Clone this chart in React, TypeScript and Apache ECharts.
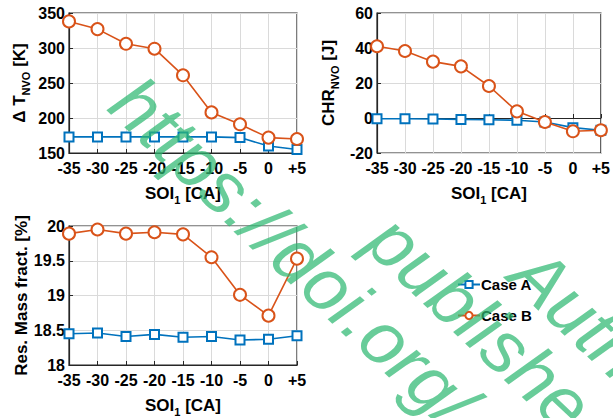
import React, { useEffect, useRef } from "react";
import * as echarts from "echarts";

// Start of injection (SOI 1) in crank-angle degrees
const soiLabels = ["-35", "-30", "-25", "-20", "-15", "-10", "-5", "0", "+5"];

// Temperature rise during NVO [K]
const deltaTCaseA = [173, 173, 173, 173, 173, 173, 172, 160, 155];
const deltaTCaseB = [338, 327, 306, 299, 261, 208, 191, 172, 170];

// Cumulative heat release during NVO [J]
const chrCaseA = [-0.4, -0.4, -0.6, -0.8, -1.0, -1.3, -2.3, -5.5, -7.0];
const chrCaseB = [41, 38.3, 32.2, 29.5, 18.3, 3.8, -2.3, -7.6, -7.0];

// Residual mass fraction [%]
const rmfCaseA = [18.45, 18.46, 18.41, 18.44, 18.4, 18.41, 18.36, 18.37, 18.42];
const rmfCaseB = [19.89, 19.95, 19.89, 19.91, 19.88, 19.55, 19.01, 18.71, 19.53];

const seriesNames = ["Case A", "Case B"];

const FONT = "'Liberation Sans', Arial, Helvetica, sans-serif";
const BLUE = "#0072BD";
const ORANGE = "#D95319";
const AXIS = "#262626";

const nameRich = {
  n: { fontSize: 17, fontWeight: "bold", fontFamily: FONT, color: "#000" },
  s: {
    fontSize: 11,
    fontWeight: "bold",
    fontFamily: FONT,
    color: "#000",
    padding: [12, 0, 0, 0],
  },
};

function xAxisFor(gridIndex: number) {
  return {
    type: "category",
    gridIndex,
    data: soiLabels,
    boundaryGap: false,
    name: "{n|SOI}{s|1}{n| [CA]}",
    nameLocation: "middle",
    nameGap: 29,
    nameTextStyle: { rich: nameRich },
    axisLine: { lineStyle: { color: AXIS, width: 1.2 } },
    axisTick: { inside: true, length: 4, lineStyle: { color: AXIS } },
    axisLabel: {
      interval: 0,
      color: "#000",
      fontSize: 16,
      fontWeight: "bold",
      fontFamily: FONT,
      margin: 7,
    },
    splitLine: { show: true, lineStyle: { color: "#dadada", width: 1 } },
  };
}

function yAxisFor(
  gridIndex: number,
  min: number,
  max: number,
  interval: number,
  name: string,
  nameGap: number
) {
  return {
    type: "value",
    gridIndex,
    min,
    max,
    interval,
    name,
    nameLocation: "middle",
    nameGap,
    nameTextStyle: { rich: nameRich },
    axisLine: { show: true, lineStyle: { color: AXIS, width: 1.2 } },
    axisTick: { show: true, inside: true, length: 4, lineStyle: { color: AXIS } },
    axisLabel: {
      color: "#000",
      fontSize: 16,
      fontWeight: "bold",
      fontFamily: FONT,
      margin: 4,
    },
    splitLine: { show: true, lineStyle: { color: "#dadada", width: 1 } },
  };
}

function lineSeries(
  name: string,
  data: number[],
  gridIndex: number,
  color: string
) {
  const isA = name === seriesNames[0];
  return {
    type: "line",
    name,
    data,
    xAxisIndex: gridIndex,
    yAxisIndex: gridIndex,
    symbol: isA ? "emptyRect" : "emptyCircle",
    symbolSize: isA ? 9 : 12,
    color,
    lineStyle: { color, width: 1.6 },
    itemStyle: { color, borderColor: color, borderWidth: 1.5 },
    z: isA ? 3 : 4,
  };
}

const watermarkFill = "rgba(46,184,114,0.72)";
const watermarkLines = ["https://doi.org/", "publishe", "Auth"];

export default function App() {
  const ref = useRef<HTMLDivElement>(null);

  useEffect(() => {
    document.body.style.margin = "0";
    if (!ref.current) return;
    const chart = echarts.init(ref.current, undefined, { renderer: "svg" });

    const grids = [
      { left: 69, top: 13, width: 228, height: 140 },
      { left: 377, top: 13, width: 228, height: 140 },
      { left: 69, top: 226, width: 228, height: 140 },
    ].map((g) => ({
      ...g,
      show: true,
      borderColor: AXIS,
      borderWidth: 1.2,
      backgroundColor: "transparent",
    }));

    const rot = (-43.4 * Math.PI) / 180;
    const wmPos = [
      [123, 91],
      [380, 228],
      [523, 261],
    ];

    chart.setOption({
      animation: false,
      backgroundColor: "#fff",
      textStyle: { fontFamily: FONT },
      grid: grids,
      xAxis: [xAxisFor(0), xAxisFor(1), xAxisFor(2)],
      yAxis: [
        yAxisFor(0, 150, 350, 50, "{n|Δ T}{s|NVO}{n| [K]}", 38),
        yAxisFor(1, -20, 60, 20, "{n|CHR}{s|NVO}{n| [J]}", 37),
        yAxisFor(2, 18, 20, 0.5, "{n|Res. Mass fract. [%]}", 38),
      ],
      legend: {
        data: seriesNames,
        orient: "vertical",
        left: 452,
        top: 272,
        itemWidth: 22,
        itemHeight: 9,
        itemGap: 16,
        textStyle: {
          color: "#000",
          fontSize: 15,
          fontWeight: "bold",
          fontFamily: FONT,
          padding: [0, 0, 0, -4],
        },
      },
      series: [
        lineSeries(seriesNames[0], deltaTCaseA, 0, BLUE),
        lineSeries(seriesNames[1], deltaTCaseB, 0, ORANGE),
        lineSeries(seriesNames[0], chrCaseA, 1, BLUE),
        lineSeries(seriesNames[1], chrCaseB, 1, ORANGE),
        lineSeries(seriesNames[0], rmfCaseA, 2, BLUE),
        lineSeries(seriesNames[1], rmfCaseB, 2, ORANGE),
      ],
      graphic: watermarkLines.map((text, i) => ({
        type: "text",
        x: wmPos[i][0],
        y: wmPos[i][1],
        rotation: rot,
        z: 100,
        silent: true,
        style: {
          text,
          fontSize: 74,
          fontStyle: "italic",
          fontFamily: FONT,
          fill: watermarkFill,
          align: "left",
          verticalAlign: "middle",
        },
      })),
    });

    return () => chart.dispose();
  }, []);

  return <div ref={ref} style={{ width: 613, height: 418 }} />;
}
